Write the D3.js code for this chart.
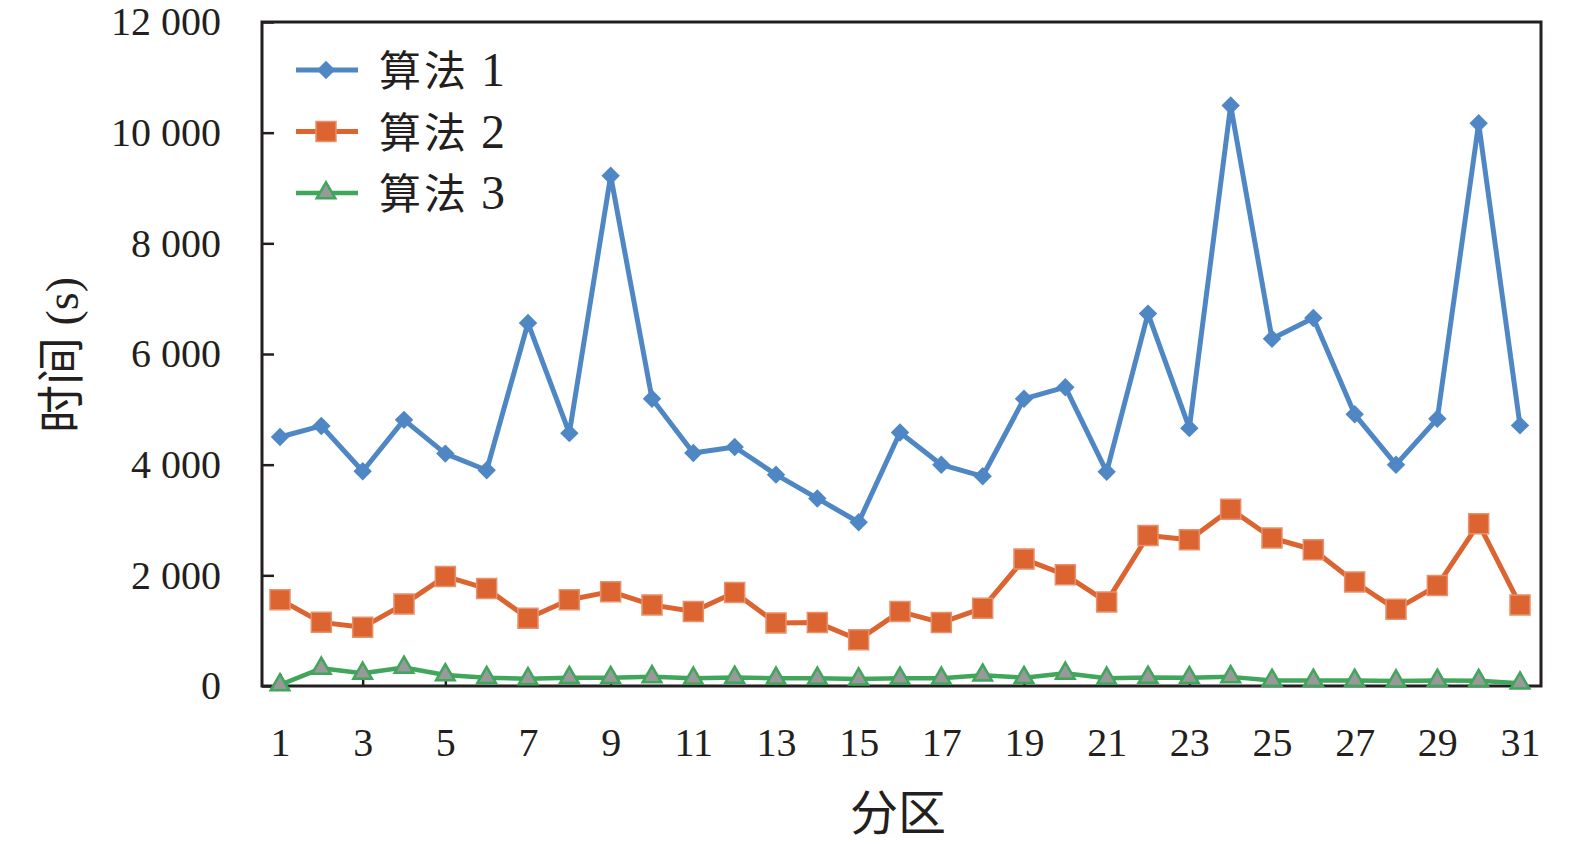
<!DOCTYPE html>
<html>
<head>
<meta charset="utf-8">
<script src="https://cdn.jsdelivr.net/npm/d3@7"></script>
<style>
  html, body { margin: 0; padding: 0; background: #fff; }
  svg { display: block; }
</style>
</head>
<body>
<div id="chart"></div>
<script>
// Partition index 1..31
const partitions = d3.range(1, 32);

// Running time (s) per partition
const algo1 = [4500, 4700, 3880, 4810, 4200, 3900, 6560, 4570, 9220, 5190,
  4210, 4320, 3820, 3390, 2960, 4580, 4000, 3790, 5190, 5400,
  3870, 6730, 4660, 10490, 6275, 6650, 4910, 4000, 4830, 10170, 4710];
const algo2 = [1560, 1150, 1060, 1480, 1980, 1760, 1225, 1560, 1705, 1466,
  1345, 1690, 1140, 1146, 835, 1345, 1146, 1406, 2293, 2009,
  1520, 2720, 2645, 3195, 2675, 2462, 1880, 1385, 1815, 2934, 1466];
const algo3 = [20, 320, 230, 335, 200, 150, 130, 150, 150, 165,
  140, 155, 140, 140, 125, 140, 140, 195, 150, 230,
  140, 155, 150, 165, 100, 100, 100, 90, 100, 95, 50];

const seriesNames = ["算法 1", "算法 2", "算法 3"];
const xTicks = d3.range(1, 32, 2);
const yTicks = [0, 2000, 4000, 6000, 8000, 10000, 12000];

const width = 1575;
const height = 844;
const plot = { left: 262, right: 1541, top: 22, bottom: 686 };

const LATIN = "'Liberation Serif', 'Times New Roman', serif";
const CJK = "'Noto Sans CJK SC', 'Liberation Serif', sans-serif";
const INK = "#231f20";

const svg = d3.select("#chart")
  .append("svg")
  .attr("width", width)
  .attr("height", height);

const x = d3.scaleLinear()
  .domain([1, 31])
  .range([280, 1520]);

const y = d3.scaleLinear()
  .domain([0, 12000])
  .range([plot.bottom, plot.top]);

const fmt = d3.formatLocale({ decimal: ".", thousands: " ", grouping: [3], currency: ["", ""] }).format(",d");

// Axes (ticks point inward)
const xAxis = d3.axisBottom(x)
  .tickValues(xTicks)
  .tickFormat(d3.format("d"))
  .tickSizeInner(-12)
  .tickSizeOuter(0)
  .tickPadding(42);

const yAxis = d3.axisLeft(y)
  .tickValues(yTicks)
  .tickFormat(fmt)
  .tickSizeInner(-12)
  .tickSizeOuter(0)
  .tickPadding(41);

const gx = svg.append("g")
  .attr("transform", `translate(0,${plot.bottom})`)
  .call(xAxis);

const gy = svg.append("g")
  .attr("transform", `translate(${plot.left},0)`)
  .call(yAxis);

[gx, gy].forEach((g) => {
  g.select(".domain").remove();
  g.selectAll(".tick line").attr("stroke", INK).attr("stroke-width", 2.5);
  g.selectAll(".tick text")
    .attr("fill", INK)
    .style("font-family", LATIN)
    .style("font-size", "40px");
});

// Frame
svg.append("rect")
  .attr("x", plot.left)
  .attr("y", plot.top)
  .attr("width", plot.right - plot.left)
  .attr("height", plot.bottom - plot.top)
  .attr("fill", "none")
  .attr("stroke", INK)
  .attr("stroke-width", 3);

// Series styles
const styles = [
  { values: algo1, color: "#4f87c5", width: 5,
    symbol: d3.symbol(d3.symbolSquare, 170), rotate: 45, fill: "#4f87c5", stroke: "none" },
  { values: algo2, color: "#dc6431", width: 5,
    symbol: d3.symbol(d3.symbolSquare, 400), rotate: 0, fill: "#dc6431", stroke: "#e8906a" },
  { values: algo3, color: "#3fa65c", width: 4.5,
    symbol: d3.symbol(d3.symbolTriangle, 150), rotate: 0, fill: "#999999", stroke: "#3fa65c" }
];

const line = d3.line()
  .x((d, i) => x(partitions[i]))
  .y((d) => y(d));

// draw the green one first so the others sit above it
[2, 1, 0].forEach((k) => {
  const s = styles[k];
  const g = svg.append("g");
  g.append("path")
    .datum(s.values)
    .attr("fill", "none")
    .attr("stroke", s.color)
    .attr("stroke-width", s.width)
    .attr("stroke-linejoin", "round")
    .attr("d", line);
  g.selectAll("path.marker")
    .data(s.values)
    .enter()
    .append("path")
    .attr("class", "marker")
    .attr("d", s.symbol)
    .attr("transform", (d, i) => `translate(${x(partitions[i])},${y(d)}) rotate(${s.rotate})`)
    .attr("fill", s.fill)
    .attr("stroke", s.stroke)
    .attr("stroke-width", k === 2 ? 2.5 : 1.5);
});

// Legend
const legend = svg.append("g").attr("transform", "translate(296,70)");
seriesNames.forEach((name, k) => {
  const s = styles[k];
  const row = legend.append("g").attr("transform", `translate(0,${k * 61.5})`);
  row.append("line")
    .attr("x1", 0).attr("x2", 62)
    .attr("stroke", s.color)
    .attr("stroke-width", s.width);
  row.append("path")
    .attr("d", s.symbol)
    .attr("transform", `translate(30,0) rotate(${s.rotate})`)
    .attr("fill", s.fill)
    .attr("stroke", s.stroke)
    .attr("stroke-width", k === 2 ? 2.5 : 1.5);
  const parts = name.split(" ");
  const t = row.append("text")
    .attr("x", 83)
    .attr("y", 16)
    .attr("fill", INK);
  t.append("tspan").style("font-family", CJK).style("font-size", "42px")
    .style("letter-spacing", "3px").text(parts[0]);
  t.append("tspan").style("font-family", LATIN).style("font-size", "48px").text(" " + parts[1]);
});

// Axis titles
svg.append("text")
  .attr("x", 898)
  .attr("y", 830)
  .attr("text-anchor", "middle")
  .attr("fill", INK)
  .style("font-family", CJK)
  .style("font-size", "48px")
  .text("分区");

const yt = svg.append("text")
  .attr("transform", "translate(78,355) rotate(-90)")
  .attr("text-anchor", "middle")
  .attr("fill", INK);
yt.append("tspan").style("font-family", CJK).style("font-size", "48px").text("时间");
yt.append("tspan").style("font-family", LATIN).style("font-size", "46px").text(" (s)");
</script>
</body>
</html>
